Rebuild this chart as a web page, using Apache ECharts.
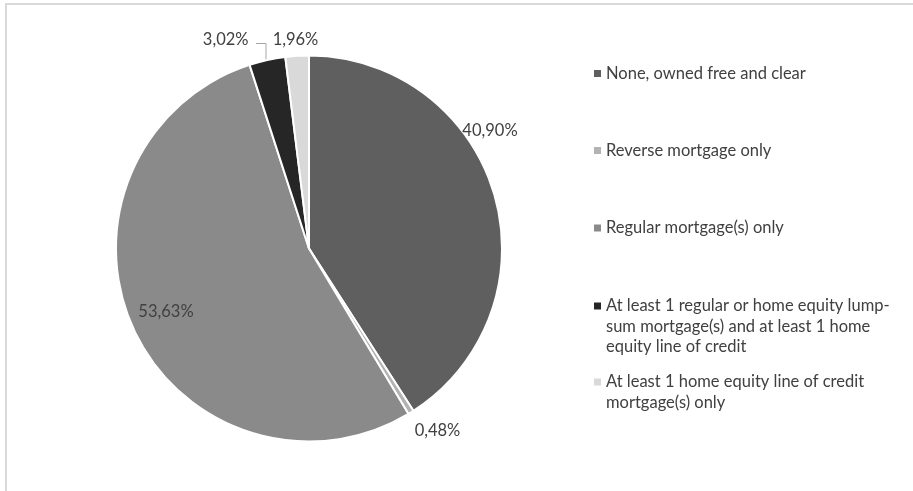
<!DOCTYPE html>
<html>
<head>
<meta charset="utf-8">
<script src="https://cdn.jsdelivr.net/npm/echarts@6/dist/echarts.min.js"></script>
<style>
html,body{margin:0;padding:0;background:#fff;}
#chart{width:913px;height:491px;}
</style>
</head>
<body>
<div id="chart"></div>
<script>
const categories = [
  'None, owned free and clear',
  'Reverse mortgage only',
  'Regular mortgage(s) only',
  'At least 1 regular or home equity lump-sum mortgage(s) and at least 1 home equity line of credit',
  'At least 1 home equity line of credit mortgage(s) only'
];
const legendText = [
  'None, owned free and clear',
  'Reverse mortgage only',
  'Regular mortgage(s) only',
  'At least 1 regular or home equity lump-\nsum mortgage(s) and at least 1 home\nequity line of credit',
  'At least 1 home equity line of credit\nmortgage(s) only'
];
const values = [40.90, 0.48, 53.63, 3.02, 1.96];
const colors = ['#5f5f5f', '#b3b3b3', '#8a8a8a', '#262626', '#d9d9d9'];

const FONT = 'Lato';
const FS = 16.5;
const LH = 20.5;
const textColor = '#404040';

// legend layout (first-line centers)
const legendFirstLine = [73.5, 150.5, 228, 306, 382];

function legendFor(i) {
  const lines = legendText[i].split('\n').length;
  const h = lines * LH;
  const sqTop = LH / 2 - 3.5;
  const icon = 'path://M0,0L7,0M0,' + sqTop + 'L7,' + sqTop + 'L7,' + (sqTop + 7) + 'L0,' + (sqTop + 7) + 'ZM0,' + h + 'L7,' + h;
  return {
    show: true,
    orient: 'vertical',
    left: 594,
    top: legendFirstLine[i] - LH / 2,
    padding: 0,
    itemWidth: 7,
    itemHeight: lines === 1 ? 7 : h,
    icon: lines === 1 ? 'rect' : icon,
    symbolKeepAspect: false,
    selectedMode: false,
    itemStyle: { borderWidth: 0 },
    data: [categories[i]],
    formatter: function () { return legendText[i]; },
    textStyle: { fontFamily: FONT, fontSize: FS, color: textColor, lineHeight: LH }
  };
}

const labelPos = [[490, 131], [437.5, 431], [166, 312], [225.7, 39.5], [295.5, 39.5]];

const chart = echarts.init(document.getElementById('chart'), null, { renderer: 'canvas' });
chart.setOption({
  animation: false,
  color: colors,
  graphic: [{
    type: 'rect',
    shape: { x: 6, y: 4, width: 1000, height: 1000 },
    style: { fill: 'none', stroke: '#d9d9d9', lineWidth: 2 },
    silent: true
  }],
  legend: categories.map((c, i) => legendFor(i)),
  series: [{
    type: 'pie',
    center: [309, 248.5],
    radius: 193,
    startAngle: 90,
    clockwise: true,
    avoidLabelOverlap: false,
    itemStyle: { borderColor: '#ffffff', borderWidth: 2 },
    label: {
      show: true,
      position: 'outside',
      fontFamily: FONT,
      fontSize: FS,
      color: textColor,
      formatter: function (p) { return p.value.toFixed(2).replace('.', ',') + '%'; }
    },
    labelLine: { show: false, lineStyle: { color: '#a6a6a6', width: 1 } },
    labelLayout: function (p) {
      const pos = labelPos[p.dataIndex];
      const r = { x: pos[0], y: pos[1], align: 'center', verticalAlign: 'middle' };
      if (p.dataIndex === 3) {
        r.labelLinePoints = [[256, 43.5], [266, 43.5], [266, 61]];
      }
      return r;
    },
    emphasis: { disabled: true },
    data: categories.map((c, i) => ({
      name: c,
      value: values[i],
      labelLine: i === 3 ? { show: true, length: 5, length2: 5 } : undefined
    }))
  }]
});
</script>
</body>
</html>
